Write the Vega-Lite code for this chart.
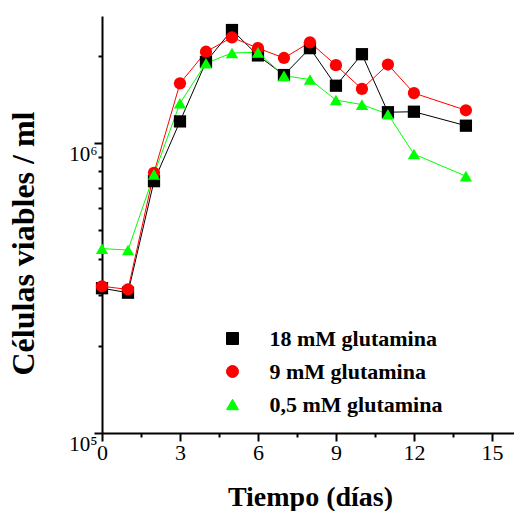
{
  "$schema": "https://vega.github.io/schema/vega-lite/v6.json",
  "width": 412,
  "height": 417,
  "autosize": {"type": "none"},
  "padding": {"left": 102, "top": 16, "right": 0, "bottom": 78},
  "background": "white",
  "data": {
    "values": [
      {"series": "18 mM glutamina", "day": 0, "cells": 316000},
      {"series": "18 mM glutamina", "day": 1, "cells": 305000},
      {"series": "18 mM glutamina", "day": 2, "cells": 740000},
      {"series": "18 mM glutamina", "day": 3, "cells": 1190000},
      {"series": "18 mM glutamina", "day": 4, "cells": 1910000},
      {"series": "18 mM glutamina", "day": 5, "cells": 2460000},
      {"series": "18 mM glutamina", "day": 6, "cells": 2010000},
      {"series": "18 mM glutamina", "day": 7, "cells": 1720000},
      {"series": "18 mM glutamina", "day": 8, "cells": 2130000},
      {"series": "18 mM glutamina", "day": 9, "cells": 1580000},
      {"series": "18 mM glutamina", "day": 10, "cells": 2030000},
      {"series": "18 mM glutamina", "day": 11, "cells": 1280000},
      {"series": "18 mM glutamina", "day": 12, "cells": 1285000},
      {"series": "18 mM glutamina", "day": 14, "cells": 1150000},
      {"series": "9 mM glutamina", "day": 0, "cells": 321000},
      {"series": "9 mM glutamina", "day": 1, "cells": 313000},
      {"series": "9 mM glutamina", "day": 2, "cells": 791000},
      {"series": "9 mM glutamina", "day": 3, "cells": 1610000},
      {"series": "9 mM glutamina", "day": 4, "cells": 2070000},
      {"series": "9 mM glutamina", "day": 5, "cells": 2320000},
      {"series": "9 mM glutamina", "day": 6, "cells": 2130000},
      {"series": "9 mM glutamina", "day": 7, "cells": 1970000},
      {"series": "9 mM glutamina", "day": 8, "cells": 2230000},
      {"series": "9 mM glutamina", "day": 9, "cells": 1860000},
      {"series": "9 mM glutamina", "day": 10, "cells": 1540000},
      {"series": "9 mM glutamina", "day": 11, "cells": 1870000},
      {"series": "9 mM glutamina", "day": 12, "cells": 1490000},
      {"series": "9 mM glutamina", "day": 14, "cells": 1300000},
      {"series": "0,5 mM glutamina", "day": 0, "cells": 433000},
      {"series": "0,5 mM glutamina", "day": 1, "cells": 428000},
      {"series": "0,5 mM glutamina", "day": 2, "cells": 781000},
      {"series": "0,5 mM glutamina", "day": 3, "cells": 1375000},
      {"series": "0,5 mM glutamina", "day": 4, "cells": 1890000},
      {"series": "0,5 mM glutamina", "day": 5, "cells": 2050000},
      {"series": "0,5 mM glutamina", "day": 6, "cells": 2060000},
      {"series": "0,5 mM glutamina", "day": 7, "cells": 1710000},
      {"series": "0,5 mM glutamina", "day": 8, "cells": 1660000},
      {"series": "0,5 mM glutamina", "day": 9, "cells": 1410000},
      {"series": "0,5 mM glutamina", "day": 10, "cells": 1360000},
      {"series": "0,5 mM glutamina", "day": 11, "cells": 1260000},
      {"series": "0,5 mM glutamina", "day": 12, "cells": 918000},
      {"series": "0,5 mM glutamina", "day": 14, "cells": 770000}
    ]
  },
  "encoding": {
    "x": {
      "field": "day",
      "type": "quantitative",
      "scale": {"domain": [0, 15.85], "nice": false, "zero": false},
      "axis": {
        "values": [0, 1.5, 3, 4.5, 6, 7.5, 9, 10.5, 12, 13.5, 15],
        "labelExpr": "datum.value % 3 === 0 ? format(datum.value, 'd') : ''",
        "tickSize": {"condition": {"test": "datum.value % 3 === 0", "value": 8}, "value": 4},
        "tickWidth": 2,
        "tickColor": "black",
        "domainColor": "black",
        "domainWidth": 2,
        "grid": false,
        "labelFont": "Liberation Serif",
        "labelFontSize": 22,
        "labelColor": "black",
        "labelPadding": 1,
        "labelFlush": false,
        "labelOverlap": false,
        "title": "Tiempo (días)",
        "titleFont": "Liberation Serif",
        "titleFontSize": 28,
        "titleFontWeight": "bold",
        "titleColor": "black",
        "titleX": 208,
        "titleY": 72,
        "titleAlign": "center",
        "titleBaseline": "alphabetic"
      }
    },
    "y": {
      "field": "cells",
      "type": "quantitative",
      "scale": {"type": "log", "domain": [100000, 2750000], "nice": false},
      "axis": {
        "values": [100000, 200000, 300000, 400000, 500000, 600000, 700000, 800000, 900000, 1000000, 2000000],
        "labelExpr": "datum.value == 100000 ? '10⁵' : datum.value == 1000000 ? '10⁶' : ''",
        "tickSize": {"condition": {"test": "datum.value == 100000 || datum.value == 1000000", "value": 8}, "value": 4},
        "tickWidth": 2,
        "tickColor": "black",
        "domainColor": "black",
        "domainWidth": 2,
        "grid": false,
        "labelFont": "Liberation Serif",
        "labelFontSize": 21,
        "labelColor": "black",
        "labelPadding": -3,
        "labelBaseline": "top",
        "labelFlush": false,
        "labelOverlap": false,
        "title": "Células viables / ml",
        "titleFont": "Liberation Serif",
        "titleFontSize": 32,
        "titleFontWeight": "bold",
        "titleColor": "black",
        "titleX": -79,
        "titleY": 227,
        "titleAngle": 270,
        "titleAlign": "center",
        "titleBaseline": "middle"
      }
    }
  },
  "layer": [
    {
      "mark": {"type": "line", "strokeWidth": 1},
      "encoding": {
        "color": {
          "field": "series",
          "type": "nominal",
          "scale": {"domain": ["18 mM glutamina", "9 mM glutamina", "0,5 mM glutamina"], "range": ["#000000", "#ff0000", "#00ff00"]}
        },
        "detail": {"field": "series"}
      }
    },
    {
      "mark": {"type": "point", "filled": true, "opacity": 1, "size": 150},
      "encoding": {
        "color": {
          "field": "series",
          "type": "nominal",
          "scale": {"domain": ["18 mM glutamina", "9 mM glutamina", "0,5 mM glutamina"], "range": ["#000000", "#ff0000", "#00ff00"]}
        },
        "shape": {
          "field": "series",
          "type": "nominal",
          "scale": {"domain": ["18 mM glutamina", "9 mM glutamina", "0,5 mM glutamina"], "range": ["square", "circle", "triangle-up"]}
        }
      }
    }
  ],
  "config": {
    "view": {"stroke": null},
    "font": "Liberation Serif",
    "legend": {
      "orient": "none",
      "legendX": 119.5,
      "legendY": 311.5,
      "title": null,
      "padding": 0,
      "symbolSize": 144,
      "symbolOffset": 0,
      "symbolStrokeWidth": 1,
      "labelOffset": 26,
      "labelLimit": 400,
      "rowPadding": 11,
      "labelFont": "Liberation Serif",
      "labelFontSize": 22,
      "labelFontWeight": "bold",
      "labelColor": "black",
      "labelBaseline": "middle"
    }
  }
}
